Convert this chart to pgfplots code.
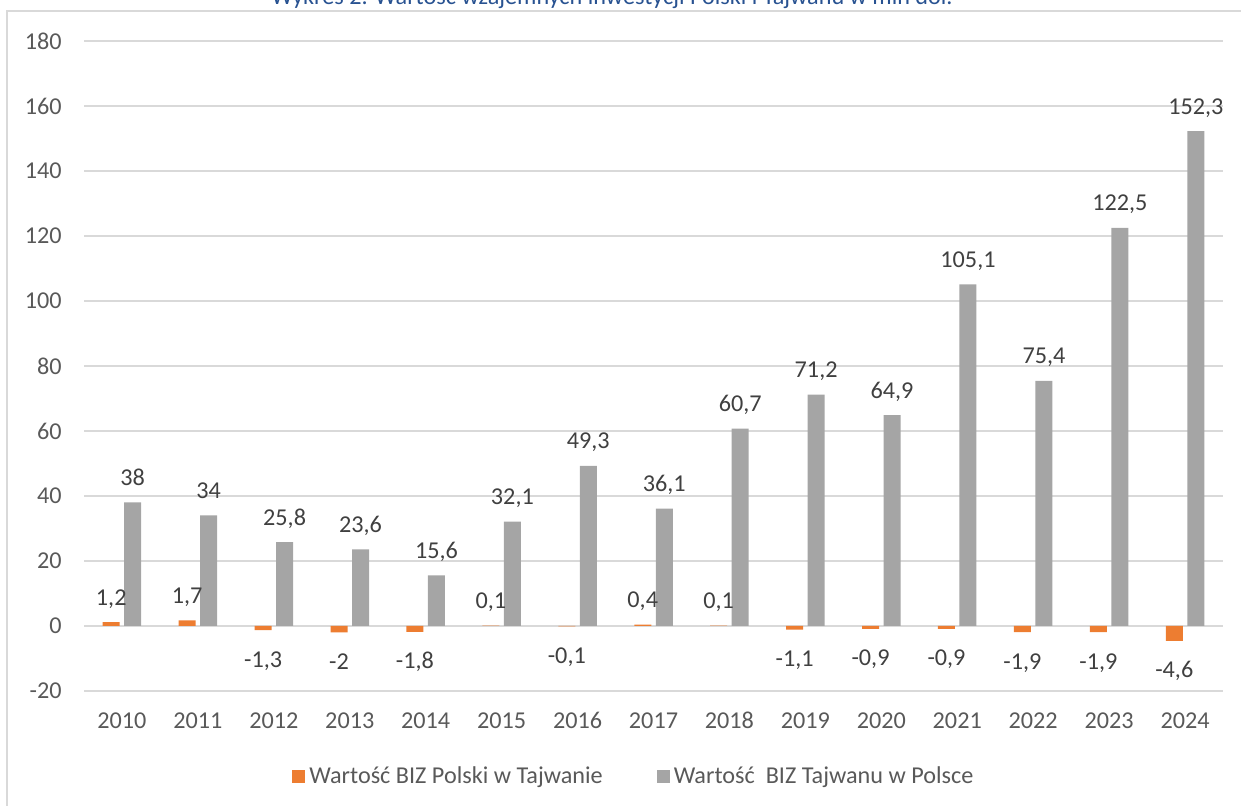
\documentclass[border=0pt]{standalone}
\usepackage{pgfplots}
\usepackage{pgfplotstable}
\pgfplotsset{compat=1.18}
\usepackage{fontspec}
\setmainfont{Carlito}
\definecolor{cOrange}{HTML}{ED7D31}
\definecolor{cGray}{HTML}{A5A5A5}
\definecolor{cGrid}{HTML}{D9D9D9}
\definecolor{cTick}{HTML}{595959}
\definecolor{cLab}{HTML}{404040}
\definecolor{cTitle}{RGB}{40,82,145}
\pgfplotstableread{
x y lab
0 1.2 1,2
1 1.7 1,7
2 -1.3 -1,3
3 -2 -2
4 -1.8 -1,8
5 0.1 0,1
6 -0.1 -0,1
7 0.4 0,4
8 0.1 0,1
9 -1.1 -1,1
10 -0.9 -0,9
11 -0.9 -0,9
12 -1.9 -1,9
13 -1.9 -1,9
14 -4.6 -4,6
}\pol
\pgfplotstableread{
x y lab
0 38 38
1 34 34
2 25.8 25,8
3 23.6 23,6
4 15.6 15,6
5 32.1 32,1
6 49.3 49,3
7 36.1 36,1
8 60.7 60,7
9 71.2 71,2
10 64.9 64,9
11 105.1 105,1
12 75.4 75,4
13 122.5 122,5
14 152.3 152,3
}\tai
\newcommand{\fs}{\fontsize{12.1}{14.5}\selectfont}
\begin{document}
\begin{tikzpicture}
\useasboundingbox (0,0) rectangle (620.5pt,403pt);
\clip (0,0) rectangle (620.5pt,403pt);
\draw[cGrid, line width=0.75pt] (3.5pt,-5pt) rectangle (626pt,397.5pt);
\node[anchor=base, inner sep=0pt, text=cTitle, font=\fs] at (306pt,400.5pt) {Wykres 2. Wartość wzajemnych inwestycji Polski i Tajwanu w mln dol.};
\begin{axis}[
  at={(42pt,57.5pt)}, anchor=south west,
  scale only axis, width=569.5pt, height=325pt,
  xmin=-0.5, xmax=14.5, ymin=-20, ymax=180,
  ybar=2.25pt, bar width=8.5pt,
  axis line style={draw=none},
  major tick length=0pt,
  xtick={0,...,14},
  xticklabels={2010,2011,2012,2013,2014,2015,2016,2017,2018,2019,2020,2021,2022,2023,2024},
  ytick={-20,0,...,180},
  yticklabels={-20,0,20,40,60,80,100,120,140,160,180},
  ymajorgrids, grid style={cGrid, line width=0.75pt},
  xticklabel style={font=\fs, text=cTick, anchor=base, inner sep=0pt, yshift=-19pt},
  yticklabel style={font=\fs, text=cTick, anchor=east, inner sep=0pt, xshift=-11pt},
  nodes near coords,
  point meta=explicit symbolic,
  visualization depends on={y \as \rawy},
  every node near coord/.append style={font=\fs, text=cLab, inner xsep=0pt, inner ysep=8.3pt, text height=10pt, text depth=0pt,
    /utils/exec={\pgfmathparse{\rawy<0 ? 1 : 0}\pgfmathtruncatemacro\isneg{\pgfmathresult}\ifnum\isneg=1 \def\myanc{north}\else\def\myanc{south}\fi},
    anchor=\myanc},
  legend columns=2,
  legend style={draw=none, fill=none, inner sep=0pt, at={(0.1826,-0.131)}, anchor=west, font=\fs, text=cTick,
    /tikz/every even column/.append style={column sep=25pt}},
  legend image code/.code={\fill[#1] (0pt,-3.25pt) rectangle (6.5pt,3.25pt);},
  clip=false,
]
\addplot[fill=cOrange, draw=none] table[x=x, y=y, meta=lab] {\pol};
\addlegendentry{Wartość BIZ Polski w Tajwanie}
\addplot[fill=cGray, draw=none] table[x=x, y=y, meta=lab] {\tai};
\addlegendentry{Wartość~ BIZ Tajwanu w Polsce}
\end{axis}
\end{tikzpicture}
\end{document}
